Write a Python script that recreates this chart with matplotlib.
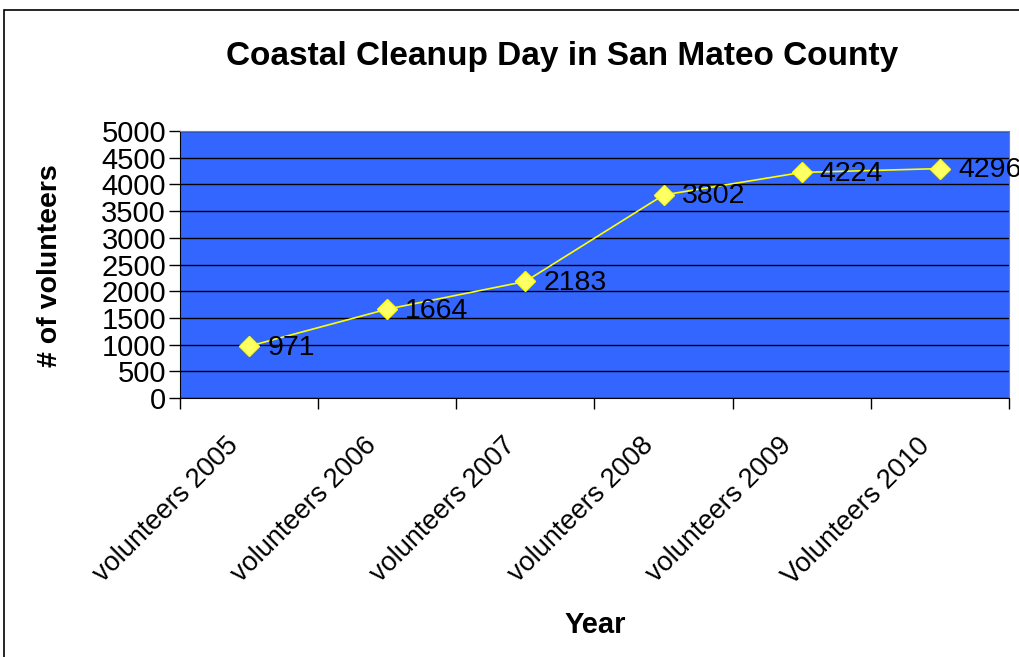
import matplotlib
matplotlib.use('Agg')
import matplotlib.pyplot as plt
from matplotlib.patches import Rectangle

# data
categories = ['volunteers 2005', 'volunteers 2006', 'volunteers 2007',
              'volunteers 2008', 'volunteers 2009', 'Volunteers 2010']
volunteers = [971, 1664, 2183, 3802, 4224, 4296]
y_ticks = list(range(0, 5001, 500))

plt.rcParams['font.family'] = ['Liberation Sans', 'DejaVu Sans']

W, H = 1020, 657
fig = plt.figure(figsize=(W / 100, H / 100), dpi=100)
ax = fig.add_axes([180 / W, 1 - 398 / H, (1009 - 180) / W, (398 - 131) / H])

ax.set_facecolor('#3366FF')
x = list(range(len(categories)))
ax.plot(x, volunteers, color='#FFFF00', lw=1.2, marker='D', ms=10,
        markerfacecolor='#FFFF66', markeredgecolor='#FFFF00', zorder=3)
for xi, v in zip(x, volunteers):
    ax.annotate(str(v), (xi, v), xytext=(13, -1), textcoords='offset points',
                fontsize=20.5, va='center', ha='left', color='black')

ax.set_xlim(-0.5, len(categories) - 0.5)
ax.set_ylim(0, 5000)
ax.set_yticks(y_ticks)
ax.set_yticklabels([str(t) for t in y_ticks], fontsize=21)
ax.yaxis.grid(True, color='black', lw=1)
ax.set_axisbelow(True)

# category ticks sit between the categories
ax.set_xticks([i - 0.5 for i in range(len(categories) + 1)])
ax.set_xticklabels([''] * (len(categories) + 1))
ax.tick_params(axis='x', length=8, width=1, color='black', direction='out')
ax.tick_params(axis='y', length=8, width=1, pad=2)
for xi, lab in zip(x, categories):
    ax.text(xi - 0.17, -0.13, lab, transform=ax.get_xaxis_transform(),
            rotation=45, ha='right', va='top', rotation_mode='anchor',
            fontsize=19.5)

for s in ['top', 'right']:
    ax.spines[s].set_color('#808080')
for s in ['left', 'bottom']:
    ax.spines[s].set_color('black')

fig.text(562 / W, 1 - 57 / H, 'Coastal Cleanup Day in San Mateo County',
         ha='center', va='center', fontsize=24, fontweight='bold')
fig.text(50 / W, 1 - 266 / H, '# of volunteers', rotation=90,
         ha='center', va='center', fontsize=20.5, fontweight='bold')
fig.text(595 / W, 1 - 625 / H, 'Year', ha='center', va='center',
         fontsize=21, fontweight='bold')

# outer chart frame
fig.patches.append(Rectangle((4 / W, -0.02), 1.1, 1 - 10 / H + 0.02,
                             transform=fig.transFigure, fill=False,
                             edgecolor='black', lw=1.2))

fig.savefig('out.png', dpi=100)
